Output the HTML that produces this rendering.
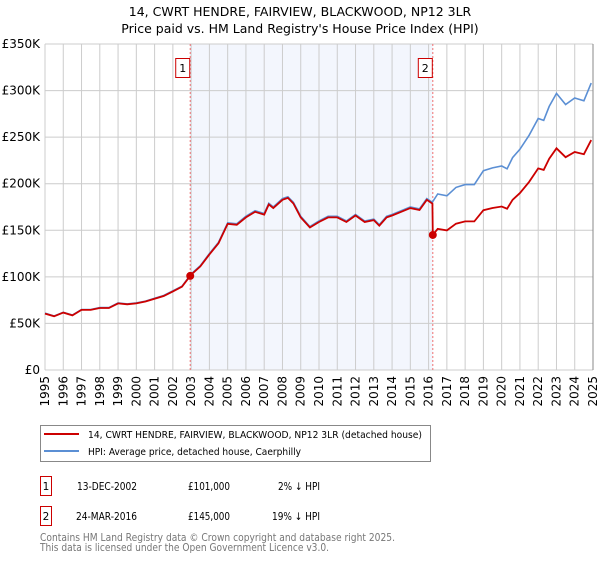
<!DOCTYPE html>
<html><head><meta charset="utf-8"><style>
body{margin:0;background:#fff;font-family:"DejaVu Sans","Liberation Sans",sans-serif;}
svg text{font-family:"DejaVu Sans","Liberation Sans",sans-serif;}
</style></head><body>
<svg id="chart" width="600" height="560" xmlns="http://www.w3.org/2000/svg">
<text x="300" y="16" text-anchor="middle" font-size="12.5">14, CWRT HENDRE, FAIRVIEW, BLACKWOOD, NP12 3LR</text>
<text x="300" y="33" text-anchor="middle" font-size="12.5">Price paid vs. HM Land Registry's House Price Index (HPI)</text>
<g id="plot"></g>
<g>
<rect x="40.5" y="425.5" width="390" height="36" fill="#fff" stroke="#888"/>
<line x1="44" y1="434" x2="79" y2="434" stroke="#cc0000" stroke-width="2"/>
<text x="88" y="438" font-size="10" textLength="334" lengthAdjust="spacingAndGlyphs">14, CWRT HENDRE, FAIRVIEW, BLACKWOOD, NP12 3LR (detached house)</text>
<line x1="44" y1="451" x2="79" y2="451" stroke="#5b8fd4" stroke-width="2"/>
<text x="88" y="455" font-size="10" textLength="213" lengthAdjust="spacingAndGlyphs">HPI: Average price, detached house, Caerphilly</text>
</g>
<g font-size="10.5">
<rect x="40.5" y="476.5" width="11" height="19" fill="none" stroke="#cc0000"/>
<text x="46" y="490" text-anchor="middle">1</text>
<text x="77" y="490" textLength="60" lengthAdjust="spacingAndGlyphs">13-DEC-2002</text>
<text x="188" y="490" textLength="42" lengthAdjust="spacingAndGlyphs">£101,000</text>
<text x="278" y="490" textLength="42" lengthAdjust="spacingAndGlyphs">2% ↓ HPI</text>
<rect x="40.5" y="506.5" width="11" height="19" fill="none" stroke="#cc0000"/>
<text x="46" y="520" text-anchor="middle">2</text>
<text x="76" y="520" textLength="61" lengthAdjust="spacingAndGlyphs">24-MAR-2016</text>
<text x="188" y="520" textLength="42" lengthAdjust="spacingAndGlyphs">£145,000</text>
<text x="272" y="520" textLength="48" lengthAdjust="spacingAndGlyphs">19% ↓ HPI</text>
</g>
<text x="40" y="541" font-size="10.5" fill="#777" textLength="355" lengthAdjust="spacingAndGlyphs">Contains HM Land Registry data © Crown copyright and database right 2025.</text>
<text x="40" y="551" font-size="10.5" fill="#777" textLength="289" lengthAdjust="spacingAndGlyphs">This data is licensed under the Open Government Licence v3.0.</text>
</svg>
<script>
const hpiYears=[1995,1995.5,1996,1996.5,1997,1997.5,1998,1998.5,1999,1999.5,2000,2000.5,2001,2001.5,2002,2002.5,2003,2003.5,2004,2004.5,2005,2005.5,2006,2006.5,2007,2007.25,2007.5,2008,2008.3,2008.6,2009,2009.5,2010,2010.5,2011,2011.5,2012,2012.5,2013,2013.3,2013.7,2014,2014.5,2015,2015.5,2015.9,2016.2,2016.5,2017,2017.5,2018,2018.5,2019,2019.5,2020,2020.3,2020.6,2021,2021.5,2022,2022.3,2022.6,2023,2023.5,2024,2024.5,2024.9];
const hpiValues=[61,58,62,59,65,65,67,67,72,71,72,74,77,80,85,90,103,112,125,137,158,157,165,171,168,179,175,184,186,180,165,154,160,165,165,160,167,160,162,156,165,167,171,175,173,184,180,189,187,196,199,199,214,217,219,216,228,237,252,270,268,283,297,285,292,289,308];
const saleYears=[2002.95,2016.23];
const salePrices=[101,145];
const saleLabels=["1","2"];
const yTicks=[0,50,100,150,200,250,300,350];
const yTickLabels=["£0","£50K","£100K","£150K","£200K","£250K","£300K","£350K"];
const xTicks=[1995,1996,1997,1998,1999,2000,2001,2002,2003,2004,2005,2006,2007,2008,2009,2010,2011,2012,2013,2014,2015,2016,2017,2018,2019,2020,2021,2022,2023,2024,2025];

const NS="http://www.w3.org/2000/svg";
const L=45,R=593,T=44,B=370;
const xs=y=>L+(y-1995)/30*(R-L);
const ys=v=>B-v/350*(B-T);
const g=document.getElementById('plot');
function mk(tag,attrs,parent){const e=document.createElementNS(NS,tag);for(const k in attrs)e.setAttribute(k,attrs[k]);(parent||g).appendChild(e);return e;}
let sh=mk('rect',{x:xs(saleYears[0]),y:T,width:xs(saleYears[1])-xs(saleYears[0]),height:B-T,fill:'#eef2fc',opacity:0.7});


yTicks.forEach((v,i)=>{
 let l=mk('line',{x1:L,x2:R,y1:ys(v),y2:ys(v),stroke:'#ccc'});
 
 
 let t=mk('text',{x:L-5,y:ys(v)+4,'text-anchor':'end','font-size':12});
 t.textContent=yTickLabels[i];
 
 
});
xTicks.forEach(y=>{
 let l=mk('line',{x1:xs(y),x2:xs(y),y1:T,y2:B,stroke:'#ccc'});
 
 
 let t=mk('text',{x:0,y:0,'text-anchor':'end','font-size':12,transform:`translate(${xs(y)+4},${B+6}) rotate(-90)`});
 t.textContent=y;
 
 
});
mk('line',{x1:R,x2:R,y1:T,y2:B,stroke:'#888'});
function hpiAt(y){for(let i=1;i<hpiYears.length;i++){if(y<=hpiYears[i]){const f=(y-hpiYears[i-1])/(hpiYears[i]-hpiYears[i-1]);return hpiValues[i-1]+f*(hpiValues[i]-hpiValues[i-1]);}}return hpiValues[hpiValues.length-1];}
const ratio1=salePrices[0]/hpiAt(saleYears[0]);
const ratio2=salePrices[1]/hpiAt(saleYears[1]);
let hp='',rp='';
hpiYears.forEach((y,i)=>{hp+=(i?'L':'M')+xs(y).toFixed(1)+','+ys(hpiValues[i]).toFixed(1);});
let redPts=[];
hpiYears.forEach((y,i)=>{if(y<saleYears[1])redPts.push([y,hpiValues[i]*ratio1]);});
redPts.push([saleYears[1]-0.02,hpiAt(saleYears[1])*ratio1]);
redPts.push([saleYears[1],salePrices[1]]);
hpiYears.forEach((y,i)=>{if(y>saleYears[1])redPts.push([y,hpiValues[i]*ratio2]);});
redPts.forEach((p,i)=>{rp+=(i?'L':'M')+xs(p[0]).toFixed(1)+','+ys(p[1]).toFixed(1);});
saleYears.forEach((y,i)=>{
 let l=mk('line',{x1:xs(y),x2:xs(y),y1:T,y2:B,stroke:'#f07070','stroke-dasharray':'2,2'});
 
 
 let bx=mk('rect',{x:xs(y)-14.5,y:58.5,width:14,height:19,fill:'#fff',stroke:'#cc0000'});
 
 
 let t=mk('text',{x:xs(y)-7.5,y:72,'text-anchor':'middle','font-size':11});
 t.textContent=saleLabels[i];
 
 
});
let hl=mk('path',{d:hp,fill:'none',stroke:'#5b8fd4','stroke-width':1.6});


let rl=mk('path',{d:rp,fill:'none',stroke:'#cc0000','stroke-width':1.8});


saleYears.forEach((y,i)=>{
 let c=mk('circle',{cx:xs(y),cy:ys(salePrices[i]),r:4,fill:'#cc0000'});
 
 
});
</script>
</body></html>
